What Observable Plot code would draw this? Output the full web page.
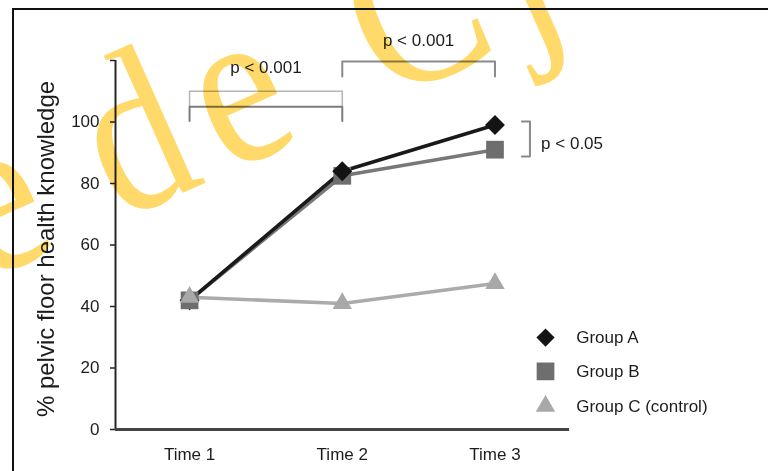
<!DOCTYPE html>
<html><head><meta charset="utf-8">
<script src="https://cdn.jsdelivr.net/npm/d3@7"></script>
<script src="https://cdn.jsdelivr.net/npm/@observablehq/plot@0.6"></script>
<style>
html,body{margin:0;padding:0;background:#fff;}
#wrap{position:relative;width:768px;height:471px;overflow:hidden;background:#fff;}
#frame{position:absolute;left:12px;top:8px;width:820px;height:520px;border:2px solid #111;box-sizing:border-box;pointer-events:none;}
#wm{position:absolute;left:0;top:0;mix-blend-mode:multiply;pointer-events:none;}
</style></head><body>
<div id="wrap"><div id="chart"></div><div id="frame"></div>
<svg id="wm" width="768" height="471"><text x="0" y="0" transform="translate(-40,292) rotate(-24) scale(0.92,1.08)" font-family="'Liberation Serif', 'DejaVu Serif', serif" font-size="210" letter-spacing="22" fill="#ffda6a"><tspan dx="28">e</tspan><tspan dx="-28"> de Cj</tspan></text></svg>
</div>
<script>
const times = ["Time 1", "Time 2", "Time 3"];
const groups = ["Group A", "Group B", "Group C (control)"];
const groupA = [42, 84, 99];
const groupB = [42, 82.5, 91];
const groupC = [43, 41, 47.5];
const yTicks = [0, 20, 40, 60, 80, 100, 120];
const yTickLabels = ["0", "20", "40", "60", "80", "100", ""];
const colors = ["#141414", "#6e6e6e", "#a8a8a8"];
const lineColors = ["#1a1a1a", "#787878", "#ababab"];
const symbols = ["diamond2", "square", "triangle"];
const symbolR = [9, 10, 7.2];
const yLabel = "% pelvic floor health knowledge";

// significance brackets (x = time index, y = %)
const bracketIds = ["b1a", "b1b", "b2", "b3"];
const bracketColors = ["#b4b4b4", "#7c7c7c", "#8a8a8a", "#8a8a8a"];
const bracketX = [[1, 1, 2, 2], [1, 1, 2, 2], [2, 2, 3, 3], [3.176, 3.229, 3.229, 3.176]];
const bracketY = [[105, 110, 110, 105], [100.3, 105, 105, 100.3], [114.8, 119.7, 119.7, 114.8], [100.2, 100.2, 88.8, 88.8]];
const pLabels = ["p < 0.001", "p < 0.001", "p < 0.05"];
const pX = [1.5, 2.5, 3.302];
const pY = [117.6, 126.4, 93];
const pAnchor = ["middle", "middle", "start"];

// legend
const legendSymX = 3.331;
const legendTextX = 3.532;
const legendY = [29.9, 18.9, 7.6];
const legendR = [8.2, 10, 7.2];

const xDomain = [0.515, 3.488];

const series = [groupA, groupB, groupC];
const rows = groups.flatMap((g, gi) => series[gi].map((v, ti) => ({group: g, gi, t: ti + 1, v})));
const lineOrder = [2, 1, 0];
const bracketRows = bracketIds.flatMap((id, i) => bracketX[i].map((x, k) => ({id, i, x, y: bracketY[i][k]})));
const pRows = pLabels.map((s, i) => ({s, i, x: pX[i], y: pY[i]}));
const legendRows = groups.map((g, i) => ({g, i, y: legendY[i]}));

const chart = Plot.plot({
  width: 768,
  height: 471,
  marginLeft: 115,
  marginRight: 199,
  marginTop: 60,
  marginBottom: 42,
  x: {domain: xDomain},
  y: {domain: [0, 120]},
  style: {fontFamily: "'Liberation Sans', Arial, sans-serif", fontSize: "17px", color: "#1c1c1c", background: "transparent", overflow: "visible"},
  marks: [
    Plot.axisY({ticks: yTicks, tickSize: 5, tickPadding: 11, tickFormat: d => yTickLabels[yTicks.indexOf(d)], label: null, stroke: "#222", strokeWidth: 1.5}),
    Plot.axisX({ticks: [1, 2, 3], tickSize: 0, tickPadding: 18, tickFormat: d => times[d - 1], label: null}),
    Plot.ruleX([xDomain[0]], {y1: 0, y2: 120, stroke: "#262626", strokeWidth: 2}),
    Plot.ruleY([0], {stroke: "#444", strokeWidth: 3}),
    Plot.text([yLabel], {frameAnchor: "left", textAnchor: "middle", rotate: -90, dx: -69, dy: 4, fontSize: 24, fill: "#1c1c1c"}),
    ...bracketIds.map((id, i) => Plot.line(bracketRows.filter(d => d.i === i), {x: "x", y: "y", stroke: bracketColors[i], strokeWidth: i === 0 ? 1.5 : 2})),
    ...pAnchor.map((a, i) => Plot.text(pRows.filter(d => d.i === i), {x: "x", y: "y", text: "s", textAnchor: a, fill: "#1c1c1c"})),
    ...lineOrder.map(gi => Plot.line(rows.filter(d => d.gi === gi), {x: "t", y: "v", stroke: lineColors[gi], strokeWidth: 3.6})),
    Plot.dot(rows, {x: "t", y: "v", symbol: "group", fill: "group", r: d => symbolR[d.gi], sort: {channel: "y"}}),
    Plot.dot(legendRows, {x: () => legendSymX, y: "y", symbol: "g", fill: "g", r: d => legendR[d.i]}),
    Plot.text(legendRows, {x: () => legendTextX, y: "y", text: "g", textAnchor: "start", fill: "#1c1c1c"})
  ],
  color: {domain: groups, range: colors},
  symbol: {domain: groups, range: symbols},
  r: {type: "identity"}
});
document.getElementById("chart").appendChild(chart);
</script>
</body></html>
